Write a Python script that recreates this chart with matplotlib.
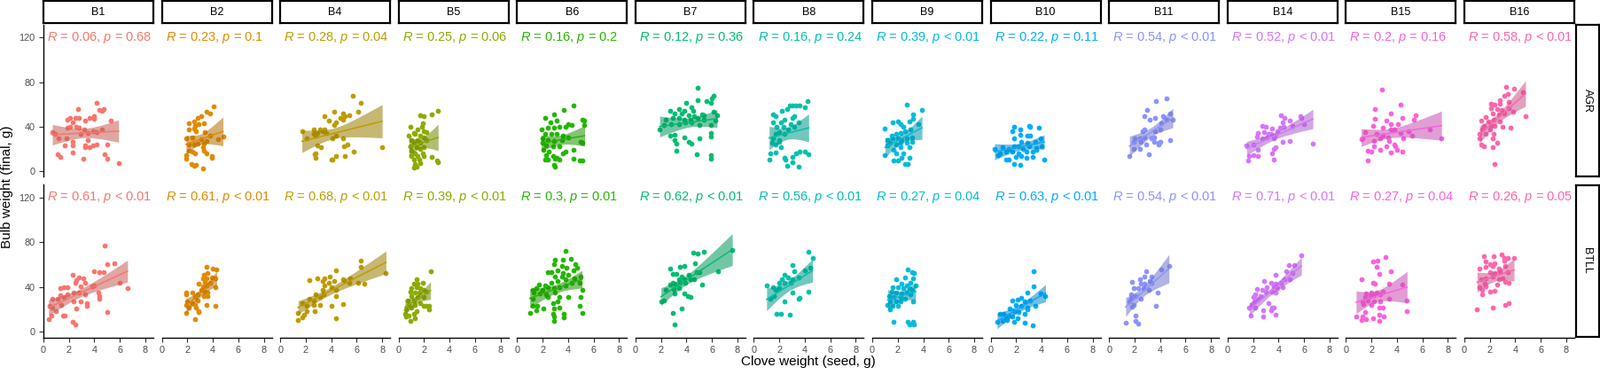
import numpy as np
import matplotlib
matplotlib.use('Agg')
import matplotlib.pyplot as plt
from matplotlib.colors import to_rgb

plt.rcParams['font.family'] = ['Liberation Sans', 'DejaVu Sans']
plt.rcParams['mathtext.fontset'] = 'custom'
plt.rcParams['mathtext.rm'] = 'Liberation Sans'
plt.rcParams['mathtext.it'] = 'Liberation Sans:italic'

blocks = ['B1', 'B2', 'B4', 'B5', 'B6', 'B7', 'B8', 'B9', 'B10', 'B11', 'B14', 'B15', 'B16']
trials = ['AGR', 'BTLL']
colors = ['#F8766D', '#E18A00', '#BE9C00', '#8CAB00', '#24B700', '#00BE70', '#00C1AB',
          '#00BBDA', '#00ACFC', '#8B93FF', '#D575FE', '#F962DD', '#FF65AC']

agr_r = ['0.06', '0.23', '0.28', '0.25', '0.16', '0.12', '0.16', '0.39', '0.22', '0.54', '0.52', '0.2', '0.58']
agr_p = ['= 0.68', '= 0.1', '= 0.04', '= 0.06', '= 0.2', '= 0.36', '= 0.24', '< 0.01', '= 0.11',
         '< 0.01', '< 0.01', '= 0.16', '< 0.01']
btll_r = ['0.61', '0.61', '0.68', '0.39', '0.3', '0.62', '0.56', '0.27', '0.63', '0.54', '0.71', '0.27', '0.26']
btll_p = ['< 0.01', '< 0.01', '< 0.01', '< 0.01', '= 0.01', '< 0.01', '< 0.01', '= 0.04', '< 0.01',
          '< 0.01', '< 0.01', '= 0.04', '= 0.05']

# (clove weight, bulb weight)
agr_b1 = [(4.2, 61), (2.7, 56), (2.1, 48), (2.5, 47.5), (2.8, 48), (1.9, 46), (2.3, 44), (3.3, 45), (3.6, 48),
          (4.0, 47), (4.0, 49), (4.7, 56), (4.6, 54), (4.4, 55), (5.3, 45), (0.7, 35), (0.9, 33), (1.9, 39),
          (2.1, 40), (2.6, 39.5), (2.8, 39), (3.2, 37), (3.5, 34), (3.9, 35.5), (4.2, 35), (2.9, 33), (4.6, 37),
          (1.2, 29), (1.8, 29), (2.3, 26), (2.3, 23), (1.7, 23), (3.3, 23), (3.3, 21), (3.6, 21.5), (3.9, 23),
          (4.2, 23.6), (5.0, 23.6), (3.5, 27.6), (1.1, 15), (1.3, 12.5), (2.3, 16.4), (3.1, 11), (4.8, 15),
          (5.0, 11), (5.9, 7)]
agr_b2 = [(4.1, 58), (3.5, 53), (3.8, 51.5), (3.1, 49.6), (2.8, 47.5), (2.5, 44.8), (2.1, 42.7), (2.6, 40.8),
          (2.9, 42.2), (3.3, 42.7), (2.1, 37), (2.5, 38.2), (2.7, 35.5), (3.4, 34.7), (3.8, 31.6), (1.9, 29.4),
          (2.4, 30.2), (3.1, 28.9), (3.5, 26.8), (4.4, 28.9), (4.8, 31), (2.1, 24.1), (2.5, 23.6), (2.8, 24.9),
          (3.3, 24.9), (2.1, 18.3), (2.4, 17), (2.6, 15.6), (3.3, 17.8), (3.5, 15.6), (3.9, 13), (3.2, 21),
          (1.9, 14.3), (1.9, 10.9), (2.3, 6.4), (2.5, 4.5), (2.7, 5.6), (3.2, 1.9), (3.9, 11.7)]
agr_b4 = [(5.7, 68), (6.3, 61.5), (5.4, 50), (4.9, 51.5), (4.2, 53), (3.5, 49.6), (1.7, 35.5), (2.6, 33),
          (2.9, 34), (3.3, 35.5), (3.5, 37), (4.2, 41), (4.4, 43.5), (4.9, 46), (5.1, 49), (6.1, 53), (4.7, 47.5),
          (3.8, 45), (2.6, 37), (3.1, 37), (2.1, 29), (2.8, 31.6), (3.6, 34), (4.4, 31.6), (4.1, 29), (2.9, 23),
          (3.2, 21), (4.9, 29), (5.3, 23.6), (5.0, 22.3), (5.8, 17), (2.8, 15.6), (4.4, 13), (8.0, 21.5),
          (4.0, 10.3), (2.7, 15), (2.8, 11.7), (4.1, 10.3), (5.1, 13.5)]
agr_b5 = [(3.1, 54), (2.6, 51), (1.7, 50), (2.0, 49), (0.9, 40), (1.9, 43), (1.8, 39.5), (1.5, 37), (2.0, 35.5),
          (2.2, 35), (1.2, 34), (0.8, 31.5), (1.3, 33), (1.7, 31.5), (2.0, 30), (1.0, 27.6), (1.5, 27.6),
          (2.2, 28), (1.2, 25), (1.7, 25), (0.9, 22), (1.4, 21), (2.0, 21), (1.0, 18), (1.7, 19.6), (1.3, 15.6),
          (1.9, 15.6), (1.0, 13), (1.5, 13), (2.0, 13), (2.6, 12.5), (1.2, 10), (1.6, 10), (3.0, 9), (3.1, 7.7),
          (1.3, 6.4), (1.7, 7), (1.4, 3.7), (1.2, 3.2)]
agr_b6 = [(4.4, 59), (3.7, 55), (2.9, 51), (2.2, 48), (5.1, 46), (5.3, 45), (3.1, 45), (2.6, 44), (4.0, 42),
          (1.9, 37), (2.4, 39), (2.9, 39), (3.3, 40), (3.8, 39.5), (4.3, 41), (5.3, 41), (2.2, 33), (2.7, 33),
          (3.1, 33), (3.6, 31.6), (2.0, 29), (2.4, 27.6), (2.9, 27), (3.5, 27.6), (4.0, 30), (5.0, 26), (2.0, 25),
          (2.3, 23), (2.8, 22), (3.3, 22), (5.1, 25.5), (2.1, 19), (2.5, 17), (3.8, 17.5), (3.6, 16), (4.4, 19),
          (2.3, 14), (2.8, 13), (3.1, 12), (2.4, 10), (3.0, 11), (3.3, 10), (4.4, 11), (4.9, 9.5), (5.1, 9.5),
          (3.0, 3.7), (2.9, 5), (2.2, 10)]
agr_b7 = [(4.9, 75), (6.1, 68), (6.0, 65), (4.9, 64), (4.0, 61.5), (2.7, 54), (3.4, 56), (3.8, 54), (4.4, 57),
          (4.5, 54), (3.1, 52), (3.6, 51.5), (4.2, 50), (4.6, 49), (5.2, 51), (5.4, 50), (5.9, 61.5), (5.6, 62.6),
          (6.1, 53.6), (6.4, 50), (2.4, 46), (2.9, 48), (3.4, 47.5), (3.8, 46), (4.3, 46), (4.9, 47.5), (5.4, 46),
          (6.3, 45.4), (1.9, 37.4), (2.2, 41.4), (2.8, 42), (3.4, 42), (3.9, 43.5), (4.4, 43.5), (5.0, 41),
          (5.9, 41), (2.7, 31.6), (3.1, 32.4), (3.8, 30), (3.1, 27.6), (3.2, 24.4), (4.2, 26.3), (4.4, 24.4),
          (5.0, 29), (5.9, 34), (5.9, 31), (3.2, 18.3), (4.8, 15), (5.9, 13.8), (5.9, 11)]
agr_b8 = [(4.2, 63), (3.6, 59), (3.3, 59), (3.0, 59), (2.8, 59), (4.0, 57), (2.6, 56), (2.2, 54), (1.5, 51),
          (1.7, 49), (3.2, 49), (3.0, 47.5), (2.4, 46), (1.5, 43.5), (2.1, 43.5), (2.9, 42), (3.5, 43.5),
          (1.8, 39.5), (2.3, 39.5), (3.2, 39.5), (2.7, 37), (2.0, 35), (1.7, 33), (2.4, 33), (1.5, 29.7), (2.0, 28),
          (1.4, 25), (1.7, 23.6), (2.1, 21.5), (2.4, 11.7), (1.3, 15.6), (1.7, 16.4), (1.2, 10.3), (2.5, 10.3),
          (3.0, 12.2), (3.3, 15.6), (3.6, 17), (4.0, 17), (4.3, 15), (2.6, 4.2), (3.0, 7.7), (3.5, 3.7),
          (2.0, 26.3)]
agr_b9 = [(2.7, 60), (3.9, 55), (3.2, 51), (3.2, 46.7), (1.6, 44), (2.0, 44.8), (2.2, 42), (2.4, 39.5),
          (2.9, 44.8), (3.6, 42), (1.0, 38), (1.9, 33.4), (2.2, 34), (2.6, 35.5), (3.0, 37), (1.2, 27.6), (1.6, 29),
          (2.0, 29), (2.3, 27.6), (2.7, 29), (3.1, 30), (1.4, 25), (1.9, 23.6), (2.2, 25), (2.7, 25), (3.1, 26.3),
          (1.2, 22.8), (1.7, 19), (2.2, 21), (2.9, 21), (1.9, 15.6), (2.4, 15.6), (1.0, 14.3), (2.3, 11.7),
          (2.9, 11.7), (1.7, 9), (2.0, 9), (2.6, 6.4), (2.8, 6.4), (1.5, 31.6)]
agr_b10 = [(1.8, 40), (2.3, 37.7), (3.0, 40.3), (3.1, 39.5), (3.8, 38.7), (1.7, 35.5), (2.3, 32.4), (2.9, 32),
           (3.1, 31.6), (1.8, 29), (2.4, 26.3), (2.9, 25), (3.5, 26.3), (3.9, 29.7), (0.3, 20), (0.9, 21),
           (1.4, 19.6), (1.8, 21.8), (2.2, 22.3), (2.5, 19.6), (3.0, 22.3), (3.6, 20.2), (4.0, 22.3), (0.7, 15.6),
           (1.2, 17), (1.7, 17), (2.2, 15.6), (2.8, 17), (3.3, 17), (3.6, 19), (1.2, 10.3), (1.4, 10.3), (2.0, 12.2),
           (2.4, 13), (2.8, 11.7), (3.3, 12.2), (4.2, 10.3), (1.8, 6.4), (2.3, 5), (0.6, 14.3)]
agr_b11 = [(3.7, 63), (4.5, 65), (3.0, 54.6), (2.8, 49), (3.2, 46), (3.6, 47.5), (4.2, 49), (4.5, 46),
           (4.1, 42.7), (4.8, 51.5), (5.0, 46), (2.6, 36), (2.8, 37), (3.6, 35.5), (4.0, 37), (2.0, 29), (2.4, 29.7),
           (2.8, 30), (3.3, 29.7), (3.5, 30), (1.9, 26.3), (2.5, 26.3), (2.9, 23.6), (3.5, 26.3), (3.9, 25.5),
           (4.0, 26.3), (4.8, 27.6), (1.9, 19.6), (2.4, 19.6), (1.6, 13), (3.1, 15), (3.9, 23.6)]
agr_b14 = [(4.2, 50), (4.5, 48), (5.7, 49.6), (5.8, 47.5), (4.9, 45.4), (4.3, 43.5), (2.7, 40.8), (3.0, 40),
           (3.5, 38), (4.1, 39), (4.4, 40), (5.1, 40.8), (6.0, 42), (2.4, 34), (2.9, 34.7), (3.4, 33.7), (3.7, 32),
           (3.1, 30), (3.6, 29), (2.3, 31), (2.7, 29), (4.3, 26.3), (4.9, 26.8), (1.5, 23), (2.0, 23.6), (3.8, 21),
           (3.6, 19.6), (2.4, 18.8), (3.5, 15.6), (2.0, 14.3), (1.7, 13), (2.4, 13.5), (1.6, 9), (3.6, 10.3),
           (6.7, 24.4), (3.2, 33), (3.9, 35.5)]
agr_b15 = [(2.8, 73), (4.3, 60), (2.3, 56), (3.5, 52), (2.3, 47), (4.4, 48), (5.5, 50), (5.3, 46), (3.2, 45),
           (3.5, 42), (4.1, 42), (2.1, 40.8), (2.9, 39), (3.5, 37), (3.8, 37), (1.5, 34.7), (2.4, 33), (2.9, 32),
           (4.3, 34), (4.9, 35.5), (6.6, 37), (3.3, 30), (4.5, 29), (5.2, 31.6), (1.3, 29), (2.2, 26.8), (2.7, 29),
           (3.4, 26.8), (3.8, 24), (3.9, 22.3), (3.2, 22.3), (2.2, 22.3), (2.7, 18.8), (2.0, 17), (1.7, 17.8),
           (3.5, 16.2), (4.4, 17), (1.7, 9), (7.5, 29.4), (1.2, 28.4), (4.0, 18.8)]
agr_b16 = [(3.3, 76), (3.9, 74), (4.6, 71), (3.4, 69), (3.1, 67.4), (2.1, 60.7), (2.4, 60), (2.8, 60.7),
           (3.5, 62), (2.1, 56.8), (2.6, 56), (2.9, 55), (3.5, 56.8), (3.8, 53.3), (2.2, 51.5), (2.7, 50.7),
           (3.1, 51.5), (2.3, 46), (1.3, 45.4), (1.9, 44.3), (2.8, 44.8), (4.8, 49.3), (1.5, 40.8), (2.1, 40.8),
           (2.4, 40.8), (3.0, 40), (3.6, 39), (1.4, 37), (2.0, 37), (1.2, 33), (1.7, 33), (2.3, 33), (1.2, 29),
           (2.2, 29), (2.6, 25.5), (1.3, 24), (1.5, 22.3), (2.2, 21), (2.4, 6.4), (2.8, 63.4), (1.7, 48.8)]

btll_b1 = [(4.8, 77), (5.0, 60), (5.6, 61), (2.3, 51), (4.0, 54), (4.4, 53), (4.7, 52.8), (2.6, 46), (2.8, 48.5),
           (3.1, 47.5), (2.5, 44), (3.3, 44), (1.6, 39.5), (1.3, 38.7), (1.9, 40), (2.9, 40.5), (3.8, 40.5),
           (4.0, 41.3), (4.3, 35), (4.4, 32), (4.4, 29.3), (1.3, 32.5), (1.9, 33.3), (2.4, 35), (2.8, 34.7),
           (3.3, 33.3), (0.7, 29.3), (1.1, 29.3), (1.6, 30.7), (1.4, 24), (2.4, 26.7), (2.9, 27), (3.4, 25.3),
           (3.4, 22.7), (0.5, 22.7), (0.7, 21.3), (1.0, 18.7), (1.5, 14.7), (1.7, 14.7), (0.6, 14.7), (0.4, 11.2),
           (2.3, 8.5), (2.5, 6.7), (2.6, 20.8), (5.0, 17.3), (6.0, 44), (6.6, 39)]
btll_b2 = [(3.5, 58), (4.0, 56.5), (4.3, 55.5), (3.3, 50.7), (3.6, 52), (3.2, 47.5), (3.5, 48), (3.9, 48.5),
           (3.4, 44.8), (3.8, 44), (4.2, 48), (4.2, 39.5), (2.9, 42.7), (3.2, 40.5), (3.5, 41.3), (3.1, 37.3),
           (3.4, 36), (3.6, 34.7), (2.8, 33.3), (3.3, 32), (1.9, 34.7), (1.9, 33.3), (2.4, 35.2), (2.6, 30.7),
           (2.0, 26.7), (2.4, 25.3), (2.6, 24), (2.7, 21.3), (2.9, 18.7), (3.5, 24), (2.8, 28), (2.1, 21.9),
           (1.9, 16.5), (2.6, 11.2), (3.6, 31.5), (4.2, 23.2), (1.9, 24), (2.9, 17.3)]
btll_b4 = [(6.3, 63.5), (6.3, 58), (8.3, 52), (6.1, 44), (6.6, 42.7), (4.9, 47), (4.4, 54.7), (3.5, 48),
           (3.9, 49.3), (2.9, 48), (3.3, 45.3), (3.8, 44), (4.2, 45.3), (5.0, 46), (5.4, 44), (2.3, 46), (3.5, 41.3),
           (4.0, 40), (4.4, 37.3), (3.3, 37.3), (2.8, 33.3), (3.4, 33.3), (4.4, 32), (2.6, 28), (3.1, 30.7),
           (4.9, 24.8), (1.7, 25.3), (2.1, 22.7), (2.6, 24), (3.1, 23.5), (2.1, 18.7), (2.7, 18.7), (1.4, 16.5),
           (1.9, 15.5), (1.7, 12.8), (1.4, 10.7), (4.0, 22.7), (4.4, 12), (2.3, 29.3), (5.5, 48)]
btll_b5 = [(2.5, 54), (1.4, 46.7), (1.2, 42.7), (1.5, 42.7), (1.9, 44), (1.0, 38.7), (1.4, 40), (1.7, 38.7),
           (2.0, 37.3), (0.9, 36), (1.3, 34.7), (1.6, 34.7), (2.2, 36), (1.0, 32), (1.5, 30.7), (2.0, 30.7),
           (0.7, 28), (1.2, 28), (1.7, 25.3), (0.8, 24), (1.3, 24), (2.0, 23.2), (2.4, 23.2), (0.6, 20), (1.0, 21.3),
           (2.4, 20), (1.4, 18.7), (0.5, 16), (0.8, 14.7), (1.2, 16), (0.6, 13.3), (1.3, 12), (0.9, 9.3),
           (2.2, 22.7)]
btll_b6 = [(3.8, 72), (4.2, 65.3), (3.0, 64), (3.6, 64), (2.9, 60), (3.5, 58.7), (3.9, 57.3), (4.6, 60),
           (4.7, 57.3), (2.4, 53.3), (2.7, 53.3), (3.2, 54.7), (3.6, 52.5), (4.4, 54.7), (3.0, 49.3), (3.5, 49.3),
           (4.0, 50.7), (5.0, 49.3), (1.7, 41.9), (2.2, 41.3), (2.7, 44), (3.2, 45.3), (3.8, 46.7), (4.5, 48),
           (4.9, 44), (1.2, 37.3), (1.5, 38.7), (2.0, 37.3), (2.4, 40), (2.9, 38.7), (3.3, 40), (3.8, 41.3),
           (4.3, 44), (5.1, 37.3), (1.3, 34.7), (1.8, 33.9), (2.3, 33.3), (3.0, 34.7), (1.2, 29.3), (2.4, 30.7),
           (3.3, 30.7), (4.0, 30.7), (2.8, 25.3), (3.2, 26.7), (1.6, 23.2), (1.2, 23.2), (4.9, 23.2), (2.9, 20.5),
           (3.3, 21.3), (2.1, 20.5), (1.5, 19.5), (1.0, 16.8), (2.8, 16), (3.7, 16), (3.7, 12.5), (2.9, 13.3),
           (2.9, 9.9), (5.1, 16.8), (5.0, 31.2)]
btll_b7 = [(7.6, 72.8), (5.4, 71.2), (4.5, 70.7), (4.9, 69.9), (6.5, 53.9), (3.8, 58.7), (3.5, 57.9), (2.7, 56),
           (2.9, 51.5), (3.2, 51.5), (3.6, 49.3), (4.2, 50.7), (4.7, 61.3), (4.8, 53.3), (5.0, 53.3), (4.3, 46.7),
           (3.8, 47.2), (3.4, 46.7), (4.6, 47.2), (2.9, 44), (2.7, 41.9), (3.1, 42.7), (3.5, 44), (3.9, 44),
           (5.2, 41.9), (2.4, 37.3), (3.0, 38.1), (3.4, 39.2), (3.1, 33.9), (3.8, 33.9), (4.1, 32), (4.3, 31.2),
           (2.2, 28), (2.0, 26.7), (3.6, 20.5), (2.9, 16.8), (3.1, 6.7)]
btll_b8 = [(4.3, 71.2), (4.6, 65.9), (4.4, 57.3), (4.0, 54.7), (3.0, 59.5), (3.2, 54.1), (2.4, 50.7), (2.7, 48.8),
           (2.2, 47.2), (3.0, 47.2), (3.5, 48.8), (2.0, 44), (2.4, 44), (2.9, 44), (1.5, 40), (2.0, 38.7), (1.7, 37.3),
           (1.0, 41.3), (1.3, 29.3), (1.6, 32), (2.4, 26.7), (3.0, 34.7), (3.5, 29.3), (3.6, 30.1), (4.3, 35.5),
           (1.8, 16), (2.1, 16), (2.8, 15.2)]
btll_b9 = [(2.8, 55.2), (3.3, 52), (3.1, 53.3), (2.6, 48.8), (3.2, 48), (1.9, 46.7), (3.0, 44), (3.4, 41.3),
           (2.3, 42.7), (2.7, 41.3), (1.6, 40), (2.0, 40), (2.4, 38.7), (2.9, 38.7), (3.1, 37.3), (1.5, 35.5),
           (1.9, 34.7), (2.3, 33.9), (2.7, 34.7), (3.0, 33.3), (1.3, 32), (1.7, 30.7), (2.2, 30.7), (2.6, 29.3),
           (1.4, 26.7), (1.9, 26.7), (2.2, 26.7), (1.2, 24), (1.6, 22.7), (2.0, 22.7), (1.4, 20), (3.2, 26.7),
           (1.7, 8.8), (2.8, 8.8), (2.9, 6.7), (3.2, 8.8), (3.3, 6.1)]
btll_b10 = [(3.4, 53.9), (3.4, 40.8), (4.3, 32), (3.5, 23.2), (2.9, 34.7), (2.4, 30.1), (2.1, 28.5), (1.7, 28),
            (3.1, 28), (2.7, 26.7), (2.0, 24), (2.4, 22.7), (2.9, 21.3), (1.5, 20.5), (1.8, 18.7), (2.2, 17.3),
            (2.7, 16), (2.9, 20), (1.0, 16), (1.4, 14.7), (1.7, 13.3), (2.1, 12), (1.3, 10.7), (0.9, 9.9), (0.7, 16),
            (0.5, 8.8), (1.8, 8.8), (2.7, 8), (3.3, 5.9), (3.9, 33.9), (1.2, 12)]
btll_b11 = [(4.7, 58.7), (4.1, 55.2), (2.9, 54.1), (3.3, 49.3), (2.8, 49.3), (2.4, 46.7), (3.2, 45.3), (1.8, 44.5),
            (2.5, 42.7), (2.8, 42.7), (1.9, 38.7), (2.3, 39.2), (2.7, 38.7), (3.1, 37.3), (3.8, 34.7), (1.7, 33.3),
            (2.1, 32), (2.5, 29.3), (1.7, 29.3), (1.6, 26.7), (1.9, 24), (3.7, 23.2), (1.8, 22.1), (2.1, 14.1),
            (2.1, 9.9), (2.3, 7.2), (1.3, 8), (3.3, 44)]
btll_b14 = [(5.8, 68), (4.8, 59.2), (5.2, 59.2), (3.8, 50.7), (4.6, 53.9), (5.1, 52), (2.9, 45.3), (3.4, 44),
            (3.8, 42.7), (4.2, 44), (4.5, 46.7), (4.9, 46.7), (3.1, 40), (3.6, 40.5), (3.9, 38.7), (4.3, 40),
            (2.3, 37.9), (2.7, 37.3), (3.0, 36), (3.5, 36), (3.8, 34.7), (2.2, 33.3), (2.6, 32), (2.0, 30.7),
            (2.4, 29.3), (2.1, 26.7), (1.9, 23.5), (2.2, 21.3), (2.8, 19.2), (3.2, 25.3), (3.5, 21.3), (3.4, 19.2),
            (3.8, 15.5), (2.8, 13.9), (1.8, 14.7), (3.6, 21.3), (1.7, 21.3)]
btll_b15 = [(3.1, 66.7), (2.1, 62.7), (2.5, 63.2), (2.4, 57.9), (1.2, 47.2), (2.6, 51.2), (3.5, 53.9), (3.4, 42.7),
            (2.1, 44), (2.3, 42.7), (4.4, 42.1), (1.6, 34.1), (2.0, 35.2), (2.4, 35.2), (2.9, 36), (1.5, 30.7),
            (1.9, 32), (2.2, 32.5), (2.7, 33.3), (3.4, 29.3), (1.3, 27.2), (1.7, 28), (2.2, 26.7), (2.7, 26.7),
            (1.4, 24.5), (2.0, 24), (2.6, 21.3), (2.9, 21.3), (1.5, 17.3), (0.8, 13.9), (1.3, 13.3), (1.6, 11.2),
            (1.2, 10.1), (2.1, 12), (2.6, 15.5), (2.6, 9.9), (3.0, 13.3), (4.8, 28), (4.8, 18.7)]
btll_b16 = [(1.5, 67.2), (2.3, 67.2), (2.9, 68.8), (3.1, 66.1), (3.4, 66.1), (3.9, 65.9), (1.7, 62.7), (2.0, 60.5),
            (2.4, 61.3), (3.1, 63.2), (1.2, 56), (1.7, 58.1), (2.2, 58.7), (2.7, 56.5), (3.2, 58.7), (2.0, 52.8),
            (2.4, 52), (2.8, 53.9), (3.4, 52.8), (1.3, 46.7), (1.7, 48), (2.2, 49.3), (2.7, 46.7), (3.2, 44.8),
            (3.5, 44), (1.2, 40), (1.7, 40.5), (1.4, 37.3), (2.0, 36), (2.4, 36.8), (1.4, 33.3), (1.0, 20),
            (2.2, 21.3), (3.2, 23.5), (3.5, 25.3), (2.6, 42.1), (1.6, 43.2), (3.0, 48)]

agr_points = [agr_b1, agr_b2, agr_b4, agr_b5, agr_b6, agr_b7, agr_b8, agr_b9, agr_b10, agr_b11,
              agr_b14, agr_b15, agr_b16]
btll_points = [btll_b1, btll_b2, btll_b4, btll_b5, btll_b6, btll_b7, btll_b8, btll_b9, btll_b10, btll_b11,
               btll_b14, btll_b15, btll_b16]

W, H = 1805, 423
fig = plt.figure(figsize=(W / 100, H / 100), dpi=100)


def box(left, top, width, height):
    # pixel box -> figure fraction
    return [left / W, 1 - (top + height) / H, width / W, height / H]


def t975(df):
    z = 1.959964
    return z + (z ** 3 + z) / (4 * df) + (5 * z ** 5 + 16 * z ** 3 + 3 * z) / (96 * df ** 2)


def add_fit(ax, x, y, color):
    n = len(x)
    b, a = np.polyfit(x, y, 1)
    xs = np.linspace(x.min(), x.max(), 80)
    fit = a + b * xs
    s = np.sqrt(((y - (a + b * x)) ** 2).sum() / (n - 2))
    se = s * np.sqrt(1 / n + (xs - x.mean()) ** 2 / ((x - x.mean()) ** 2).sum())
    t = t975(n - 2)
    band = tuple(0.8 * c for c in to_rgb(color))
    ax.fill_between(xs, fit - t * se, fit + t * se, color=band, alpha=0.55, lw=0, zorder=3)
    ax.plot(xs, fit, color=color, lw=1.1, zorder=4)


def strip(rect, label, rotation=0):
    s = fig.add_axes(rect)
    s.set_xticks([])
    s.set_yticks([])
    for sp in s.spines.values():
        sp.set_linewidth(1.6)
        sp.set_color('black')
    s.text(0.5, 0.5, label, ha='center', va='center', fontsize=9, rotation=rotation,
           transform=s.transAxes)


step = 133.58
rows = [(28, 171), (208, 172.5)]
labels = [(agr_r, agr_p), (btll_r, btll_p)]
points = [agr_points, btll_points]

for r, trial in enumerate(trials):
    top, hgt = rows[r]
    for c, block in enumerate(blocks):
        ax = fig.add_axes(box(49 + c * step, top, 124, hgt))
        pts = np.array(points[r][c], dtype=float)
        x, y = pts[:, 0], pts[:, 1]
        ax.scatter(x, y, s=17, color=colors[c], linewidths=0, zorder=2)
        add_fit(ax, x, y, colors[c])
        rv, pv = labels[r][0][c], labels[r][1][c]
        ax.text(0.28, 120, r'$\mathit{R}$ = ' + rv + r', $\mathit{p}$ ' + pv, color=colors[c],
                fontsize=10.5, ha='left', va='center')
        ax.set_xlim(0, 8.63)
        ax.set_ylim(-5, 131.5)
        ax.set_xticks([0, 2, 4, 6, 8])
        ax.set_yticks([0, 40, 80, 120])
        ax.patch.set_visible(False)
        for side in ['top', 'right']:
            ax.spines[side].set_visible(False)
        ax.spines['left'].set_linewidth(1.0)
        ax.spines['bottom'].set_linewidth(1.0)
        ax.tick_params(length=3.5, width=0.8, color='#333333', labelcolor='#4D4D4D',
                       labelsize=7.8, pad=3.5)
        if c > 0:
            ax.spines['left'].set_visible(False)
            ax.tick_params(axis='y', left=False, labelleft=False)
        if r == 0:
            ax.spines['bottom'].set_visible(False)
            ax.tick_params(axis='x', bottom=False, labelbottom=False)
        if r == 0:
            strip(box(49 + c * step, 1.5, 124, 25), block)
    strip(box(1777.5, top + 0.5, 26, hgt - 1), trial, rotation=-90)

fig.text(912 / W, 1 - 408 / H, 'Clove weight (seed, g)', ha='center', va='center', fontsize=11)
fig.text(8 / W, 1 - 211 / H, 'Bulb weight (final, g)', ha='center', va='center', fontsize=11,
         rotation=90)

fig.savefig('out.png', dpi=100)
